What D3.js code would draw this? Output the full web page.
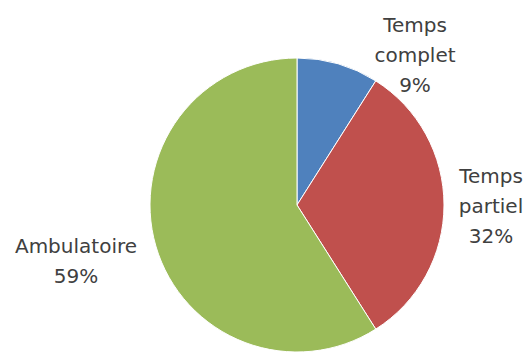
<!DOCTYPE html>
<html>
<head>
<meta charset="utf-8">
<script src="https://cdn.jsdelivr.net/npm/d3@7"></script>
<style>
  html, body { margin: 0; padding: 0; background: #fff; }
  svg { display: block; }
</style>
</head>
<body>
<svg id="chart" width="531" height="356"></svg>
<script>
// Data
const categories = ["Temps complet", "Temps partiel", "Ambulatoire"];
const values = [9, 32, 59];
const labelLines = [["Temps", "complet"], ["Temps", "partiel"], ["Ambulatoire"]];

// Styles / layout (kept apart from data)
const colors = ["#4F81BD", "#C0504D", "#9BBB59"];
const width = 531, height = 356;
const cx = 297, cy = 205, radius = 147;
// label anchor (x of centre, baseline of last line) per slice
const labelAnchor = [[415, 92], [491, 243], [76, 283]];
const lineHeight = 30;

const svg = d3.select("#chart");
const g = svg.append("g").attr("transform", `translate(${cx},${cy})`);

const pie = d3.pie().sort(null).value(d => d.value);
const arcs = pie(categories.map((c, i) => ({ name: c, value: values[i], i })));
const arc = d3.arc().innerRadius(0).outerRadius(radius);

g.selectAll("path.slice")
  .data(arcs)
  .join("path")
  .attr("class", "slice")
  .attr("d", arc)
  .attr("fill", d => colors[d.data.i])
  .attr("stroke", "#ffffff")
  .attr("stroke-width", 1);

const total = d3.sum(values);
const fmt = d3.format(".0%");

const labels = svg.selectAll("text.lbl")
  .data(arcs)
  .join("text")
  .attr("class", "lbl")
  .attr("text-anchor", "middle")
  .attr("font-family", "DejaVu Sans, sans-serif")
  .attr("font-size", 20)
  .attr("fill", "#404040");

labels.each(function(d) {
  const i = d.data.i;
  const lines = labelLines[i].concat([fmt(d.data.value / total)]);
  const [lx, lyLast] = labelAnchor[i];
  const t = d3.select(this);
  lines.forEach((ln, k) => {
    t.append("tspan")
      .attr("x", lx)
      .attr("y", lyLast - (lines.length - 1 - k) * lineHeight)
      .text(ln);
  });
});
</script>
</body>
</html>
